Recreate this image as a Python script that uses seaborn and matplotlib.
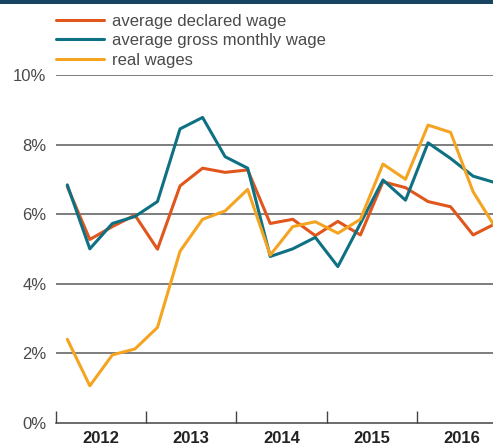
import matplotlib
matplotlib.use("Agg")
import matplotlib.pyplot as plt
import numpy as np
import pandas as pd
import seaborn as sns

# Quarterly year-on-year wage growth, %, 2012 Q1 - 2016 Q4
years = ["2012", "2013", "2014", "2015", "2016"]
quarters = ["Q1", "Q2", "Q3", "Q4"]

declared_wage = [6.79, 5.27, 5.64, 5.97, 4.99, 6.81, 7.32, 7.20,
                 7.27, 5.73, 5.85, 5.38, 5.79, 5.40, 6.93, 6.76,
                 6.36, 6.21, 5.40, 5.73]
gross_monthly_wage = [6.84, 5.00, 5.73, 5.93, 6.36, 8.45, 8.78, 7.65,
                      7.32, 4.78, 5.00, 5.33, 4.49, 5.73, 6.98, 6.40,
                      8.05, 7.60, 7.09, 6.90]
real_wages = [2.40, 1.06, 1.95, 2.12, 2.74, 4.93, 5.85, 6.09,
              6.71, 4.82, 5.64, 5.78, 5.45, 5.85, 7.44, 7.00,
              8.56, 8.35, 6.64, 5.60]

series_names = ["average declared wage", "average gross monthly wage", "real wages"]
series_colors = ["#e0561c", "#0e7183", "#f5a422"]

periods = [f"{y} {q}" for y in years for q in quarters]
idx = np.arange(len(periods))
df = pd.DataFrame({
    "period": np.tile(idx, 3),
    "value": declared_wage + gross_monthly_wage + real_wages,
    "series": np.repeat(series_names, len(periods)),
})

sns.set_theme(style="white")
plt.rcParams["font.family"] = ["Liberation Sans", "DejaVu Sans"]

fig = plt.figure(figsize=(4.93, 4.46), dpi=100)
ax = fig.add_axes([0.1136, 0.0523, 1.0 - 0.1136, 0.7795])

sns.lineplot(data=df, x="period", y="value", hue="series",
             palette=dict(zip(series_names, series_colors)),
             linewidth=2.2, ax=ax, legend=False, sort=False)

ax.set_xlim(-0.5, 18.88)
ax.set_ylim(0, 10)
ax.set_xlabel("")
ax.set_ylabel("")

# horizontal gridlines
for v in [2, 4, 6, 8, 10]:
    ax.axhline(v, color="#5a5a5a", linewidth=1.1, zorder=0)

for side in ["top", "right", "left"]:
    ax.spines[side].set_visible(False)
ax.spines["bottom"].set_color("#444444")
ax.spines["bottom"].set_linewidth(1.1)

ax.set_yticks([0, 2, 4, 6, 8, 10])
ax.set_yticklabels([f"{v}%" for v in [0, 2, 4, 6, 8, 10]])
ax.tick_params(axis="y", length=0, pad=7, labelsize=12, labelcolor="#4a4a4a")

# year boundaries as ticks, year names centred between them
ax.set_xticks([-0.5, 3.5, 7.5, 11.5, 15.5])
ax.set_xticklabels([])
ax.tick_params(axis="x", which="major", direction="in", length=9, width=1.0,
               color="#444444", bottom=True)
ax.set_xticks([1.5, 5.5, 9.5, 13.5, 17.5], minor=True)
ax.set_xticklabels(years, minor=True, fontweight="bold", fontsize=12, color="#222222")
ax.tick_params(axis="x", which="minor", length=0, pad=6)

# top band
fig.add_artist(plt.Rectangle((0, 1 - 3.5 / 446), 1, 3.5 / 446,
                             transform=fig.transFigure, color="#17445f", lw=0))

handles = [plt.Line2D([], [], color=c, linewidth=2.2) for c in series_colors]
fig.legend(handles, series_names, loc="upper left",
           bbox_to_anchor=(0.113, 0.969), frameon=False, fontsize=12,
           handlelength=2.9, handletextpad=0.45, labelspacing=0.27,
           borderaxespad=0, borderpad=0, labelcolor="#4a4a4a")

fig.savefig("out.png", dpi=100)
